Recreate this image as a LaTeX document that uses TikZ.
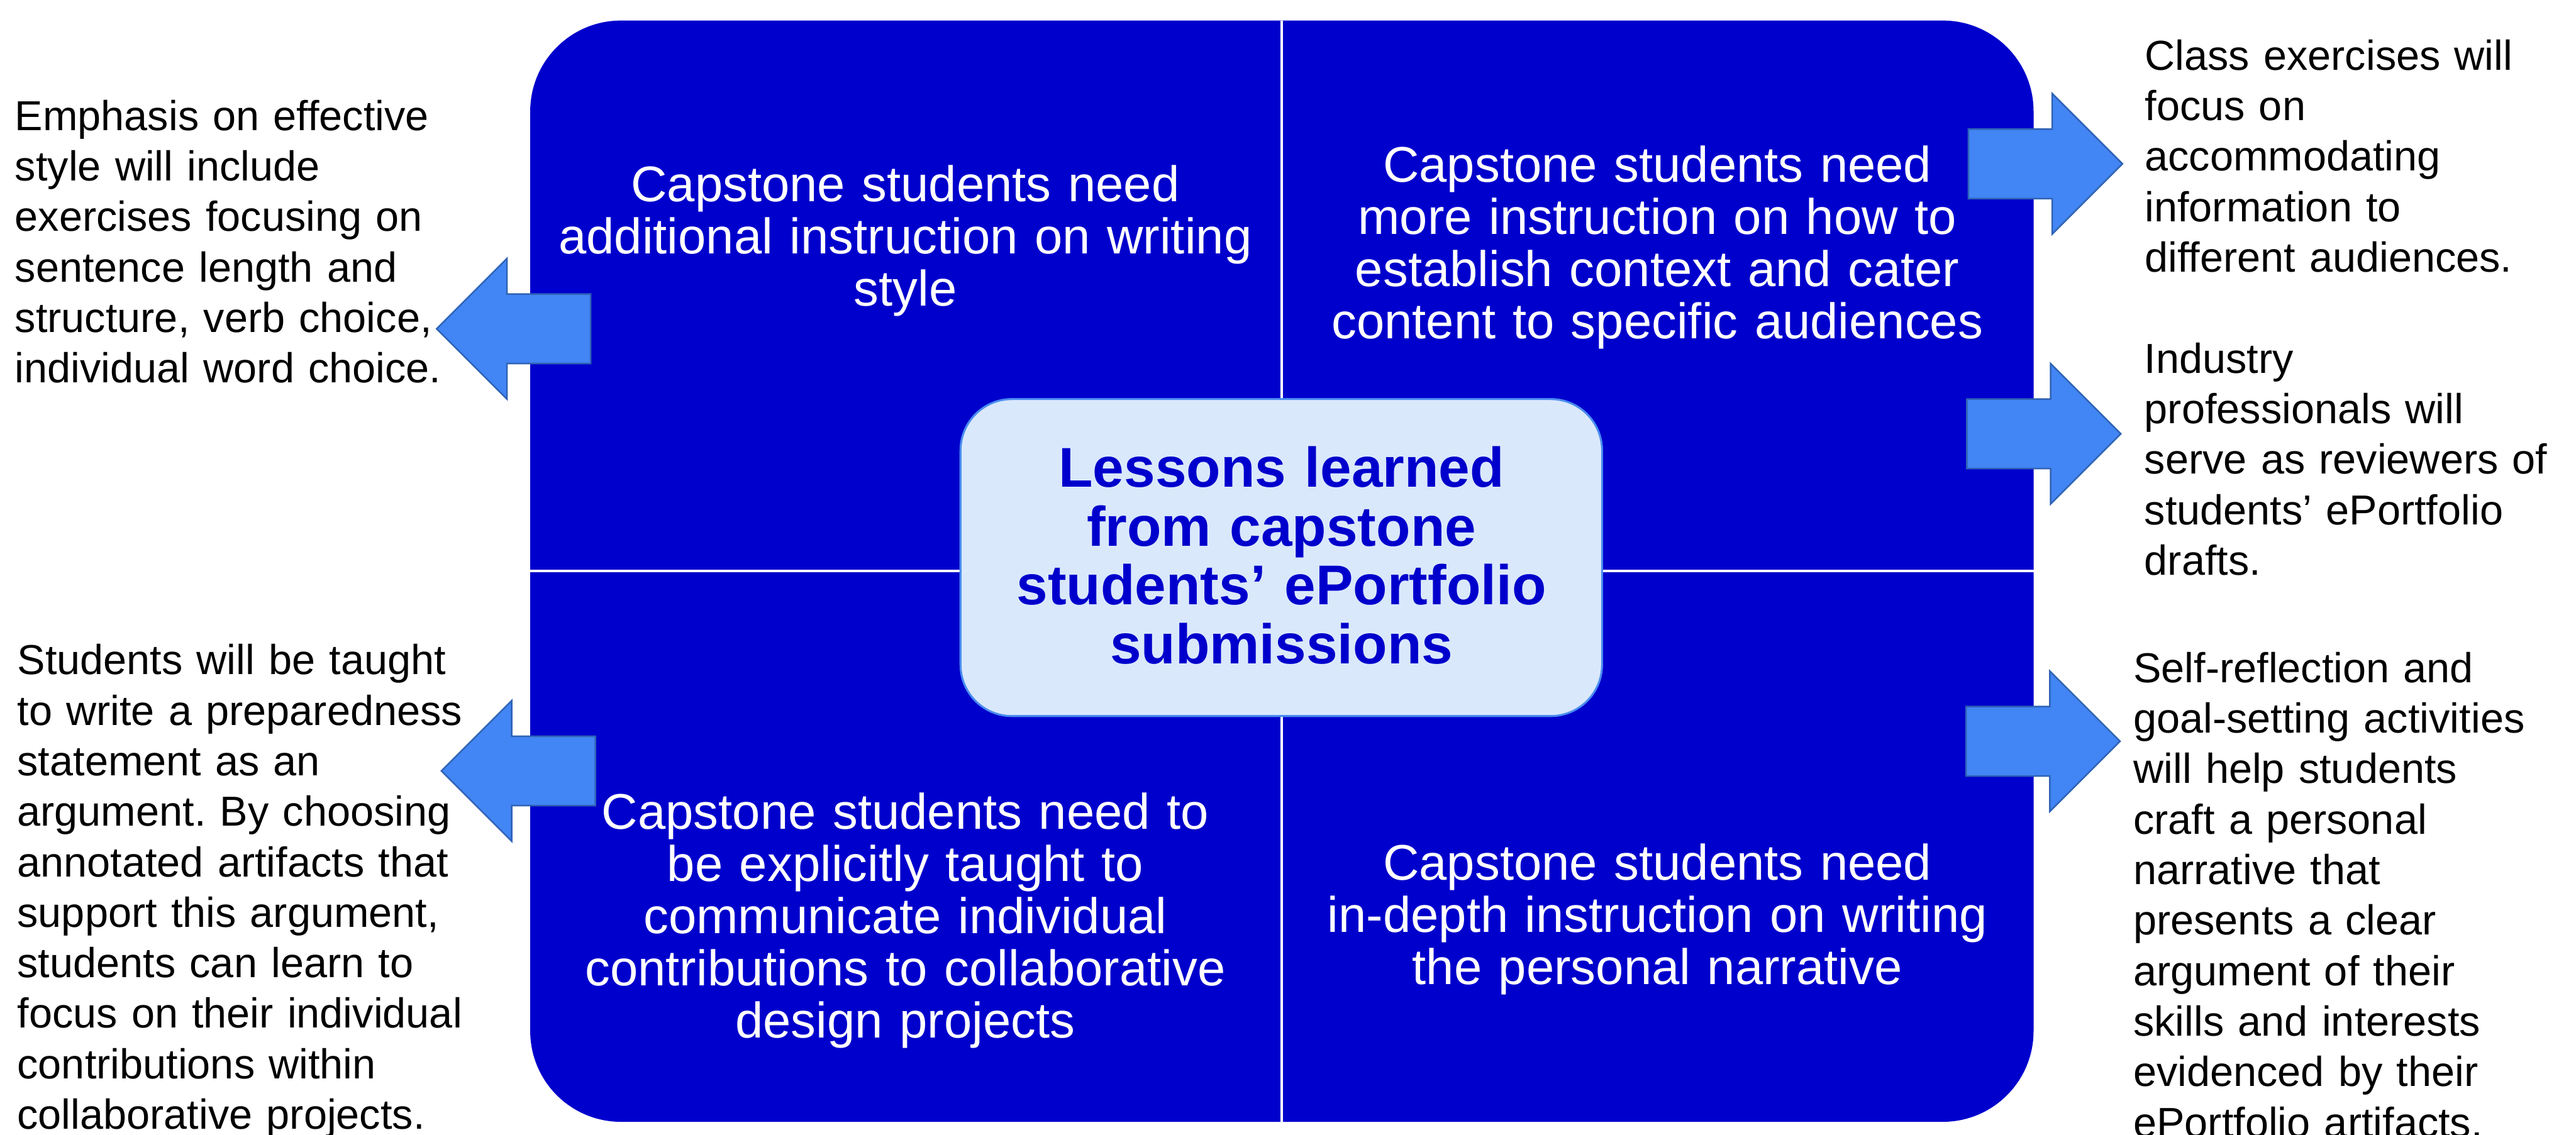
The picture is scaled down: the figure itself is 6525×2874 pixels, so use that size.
\documentclass[tikz,border=0pt]{standalone}
\usepackage{fontspec}
\setmainfont{Liberation Sans}
\frenchspacing
\definecolor{quadblue}{RGB}{0,0,204}
\definecolor{hubfill}{RGB}{218,232,252}
\definecolor{hubline}{RGB}{74,140,240}
\definecolor{arrowfill}{RGB}{66,133,244}
\definecolor{arrowline}{RGB}{47,99,181}
\begin{document}
\begin{tikzpicture}[x=0.1mm, y=-0.1mm,
  quadtext/.style={anchor=base, inner sep=0pt, outer sep=0pt, text width=185mm,
    align=center, text=white, font=\fontsize{36.1pt}{37.6pt}\selectfont},
  hubtext/.style={anchor=base, inner sep=0pt, outer sep=0pt, text width=160mm,
    align=center, text=quadblue, font=\fontsize{40.4pt}{42.4pt}\selectfont\bfseries},
  note/.style={anchor=base west, inner sep=0pt, outer sep=0pt, text width=120mm,
    align=left, text=black, font=\fontsize{30.2pt}{36.4pt}\selectfont},
  arrowbody/.style={fill=arrowfill, draw=arrowline, line width=0.4mm, line join=miter},
  blockarrow/.pic={
    \path[arrowbody] (0,0) -- (-178,-178) -- (-178,-88) -- (-390,-88)
      -- (-390,88) -- (-178,88) -- (-178,178) -- cycle;
  }]
\useasboundingbox (0,0) rectangle (6525,2874);

% quadrant block with its two white dividers
\node (grid) [rectangle, rounded corners=23mm, fill=quadblue, inner sep=0pt, outer sep=0pt,
  minimum width=380.8mm, minimum height=279mm] at (3247,1447) {};
\draw[white, line width=0.6mm] (grid.north) -- (grid.south);
\draw[white, line width=0.6mm] (grid.west) -- (grid.east);

% quadrant statements
\node (qtl) [quadtext] at (2293,511) {Capstone students need\\additional instruction on writing\\style};
\node (qtr) [quadtext] at (4198,461) {Capstone students need\\more instruction on how to\\establish context and cater\\content to specific audiences};
\node (qbl) [quadtext] at (2293,2101) {Capstone students need to\\be explicitly taught to\\communicate individual\\contributions to collaborative\\design projects};
\node (qbr) [quadtext] at (4198,2230) {Capstone students need\\in-depth instruction on writing\\the personal narrative};

% central hub
\node (hub) [rectangle, rounded corners=13mm, fill=hubfill, draw=hubline, line width=0.5mm,
  minimum width=162.5mm, minimum height=80.3mm] at (3245.5,1412.5) {};
\node (hubt) [hubtext] at (3246,1234) {Lessons learned\\from capstone\\students’ ePortfolio\\submissions};

% block arrows
\pic (al1) [rotate=180] at (1106,833) {blockarrow};
\pic (al2) [rotate=180] at (1118,1953) {blockarrow};
\pic (ar1) at (5376,415) {blockarrow};
\pic (ar2) at (5372,1099) {blockarrow};
\pic (ar3) at (5370,1878) {blockarrow};

% action notes
\node (n1) [note] at (38,330) {Emphasis on effective\\style will include\\exercises focusing on\\sentence length and\\structure, verb choice,\\individual word choice.};
\node (n2) [note] at (44,1709) {Students will be taught\\to write a preparedness\\statement as an\\argument. By choosing\\annotated artifacts that\\support this argument,\\students can learn to\\focus on their individual\\contributions within\\collaborative projects.};
\node (n3) [note] at (5433,177) {Class exercises will\\focus on\\accommodating\\information to\\different audiences.};
\node (n4) [note] at (5432,945) {Industry\\professionals will\\serve as reviewers of\\students’ ePortfolio\\drafts.};
\node (n5) [note] at (5404,1729) {Self-reflection and\\goal-setting activities\\will help students\\craft a personal\\narrative that\\presents a clear\\argument of their\\skills and interests\\evidenced by their\\ePortfolio artifacts.};
\end{tikzpicture}
\end{document}
